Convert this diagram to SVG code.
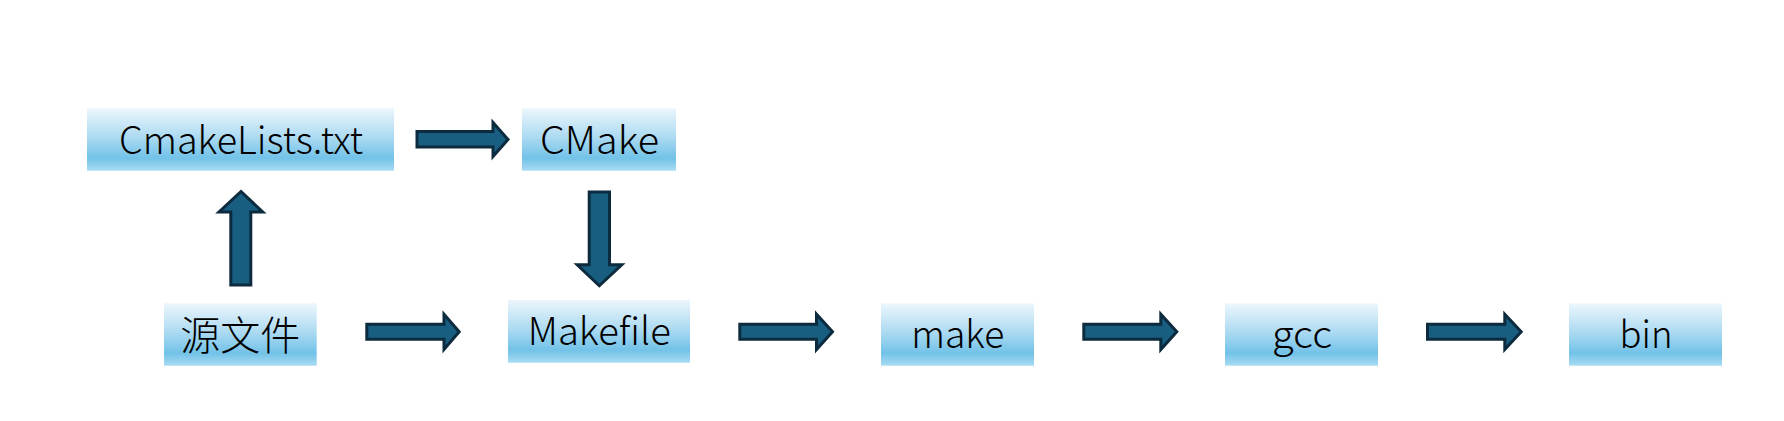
<svg xmlns="http://www.w3.org/2000/svg" width="1784" height="421" viewBox="0 0 1784 421">
  <defs>
    <linearGradient id="boxGrad" x1="0" y1="0" x2="0" y2="1">
      <stop offset="0" stop-color="#ecf6fc"/>
      <stop offset="0.45" stop-color="#aedbf2"/>
      <stop offset="0.8" stop-color="#72c2e8"/>
      <stop offset="1" stop-color="#a9dbf3"/>
    </linearGradient>
  </defs>
  <style>
    .box { fill: url(#boxGrad); }
    .lbl { font-family: "Noto Sans CJK SC", "Noto Sans", sans-serif; font-size: 38px; font-weight: 300; fill: #000; text-anchor: middle; }
    .cjk { font-size: 40px; }
    .arrow { fill: #175e80; stroke: #0d2b3e; stroke-width: 3; stroke-linejoin: miter; }
  </style>
  <rect width="1784" height="421" fill="#ffffff"/>

  <g id="connectors">
    <!-- CmakeLists.txt -> CMake -->
    <polygon class="arrow" points="417,131.5 493,131.5 493,122.5 508,139.5 493,156.5 493,147 417,147"/>
    <!-- 源文件 -> CmakeLists.txt (up) -->
    <polygon class="arrow" points="230.8,285 230.8,212 219,212 241,191.5 262.8,212 250.8,212 250.8,285"/>
    <!-- CMake -> Makefile (down) -->
    <polygon class="arrow" points="589.2,192 609.5,192 609.5,264.8 621.8,264.8 599.3,285.8 577.2,264.8 589.2,264.8"/>
    <!-- 源文件 -> Makefile -->
    <polygon class="arrow" points="366.8,324.2 444,324.2 444,314.2 459.2,331.8 444,349.5 444,339.2 366.8,339.2"/>
    <!-- Makefile -> make -->
    <polygon class="arrow" points="739.8,324.2 816.5,324.2 816.5,314.2 832.5,331.8 816.5,349.5 816.5,339.2 739.8,339.2"/>
    <!-- make -> gcc -->
    <polygon class="arrow" points="1083.8,324.2 1160.8,324.2 1160.8,314.2 1176.8,331.8 1160.8,349.5 1160.8,339.2 1083.8,339.2"/>
    <!-- gcc -> bin -->
    <polygon class="arrow" points="1427.5,324.2 1504.8,324.2 1504.8,314.2 1521.2,331.8 1504.8,349.5 1504.8,339.2 1427.5,339.2"/>
  </g>

  <g id="node-cmakelists">
    <rect class="box" x="87" y="108.3" width="307" height="62.4"/>
    <text class="lbl" x="241" y="154" textLength="244" lengthAdjust="spacingAndGlyphs">CmakeLists.txt</text>
  </g>
  <g id="node-cmake">
    <rect class="box" x="522" y="108.3" width="154" height="62.4"/>
    <text class="lbl" x="599.5" y="154" textLength="119" lengthAdjust="spacingAndGlyphs">CMake</text>
  </g>
  <g id="node-source">
    <rect class="box" x="164" y="303.3" width="152.7" height="62.4"/>
    <text class="lbl cjk" x="240.3" y="350">源文件</text>
  </g>
  <g id="node-makefile">
    <rect class="box" x="508" y="300" width="182" height="62.7"/>
    <text class="lbl" x="599.3" y="345" textLength="143" lengthAdjust="spacingAndGlyphs">Makefile</text>
  </g>
  <g id="node-make">
    <rect class="box" x="881" y="303.3" width="153" height="62.4"/>
    <text class="lbl" x="957.7" y="348.3" textLength="93" lengthAdjust="spacingAndGlyphs">make</text>
  </g>
  <g id="node-gcc">
    <rect class="box" x="1225" y="303.3" width="153" height="62.4"/>
    <text class="lbl" x="1302" y="348.3" textLength="60" lengthAdjust="spacingAndGlyphs">gcc</text>
  </g>
  <g id="node-bin">
    <rect class="box" x="1569" y="303.3" width="153" height="62.4"/>
    <text class="lbl" x="1646" y="348.3" textLength="53" lengthAdjust="spacingAndGlyphs">bin</text>
  </g>
</svg>
